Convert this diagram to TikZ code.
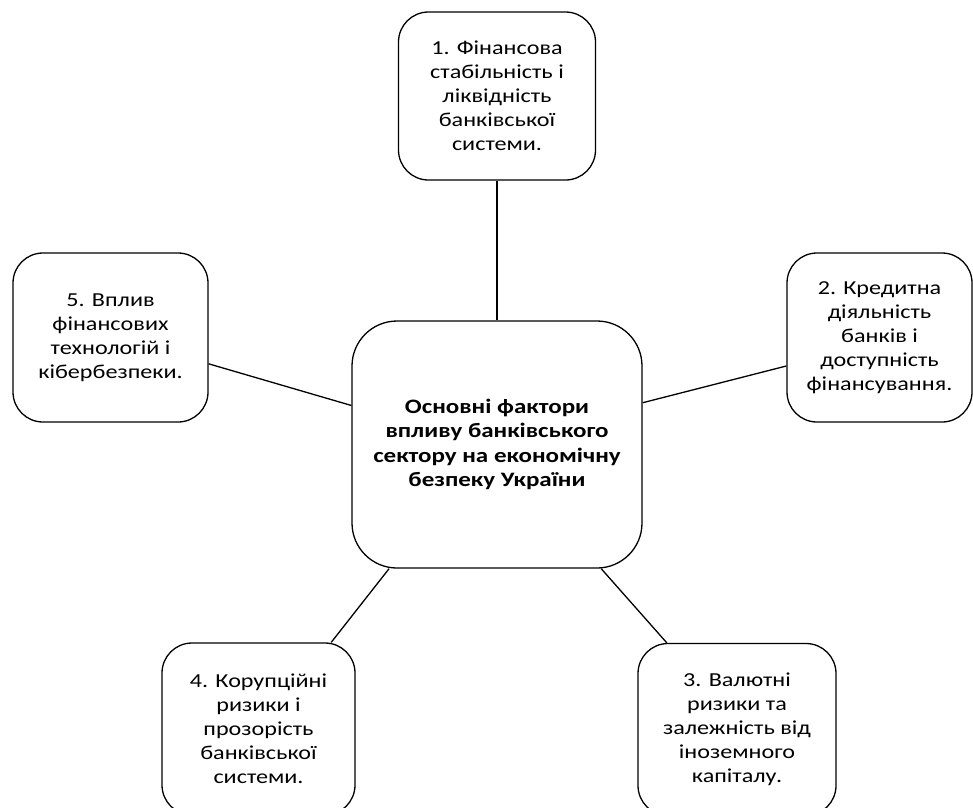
\documentclass[tikz,border=0pt]{standalone}
\usepackage{fontspec}
\setmainfont{Carlito}[FakeStretch=1.22]
\begin{document}
\begin{tikzpicture}[x=1pt,y=-1pt,
  box/.style={draw, line width=1.3pt, rounded corners=30pt, align=center,
    font=\fontsize{19.8pt}{24pt}\selectfont, inner sep=0pt},
  hub/.style={draw, line width=1.3pt, rounded corners=45pt, align=center,
    font=\fontsize{20.5pt}{24.5pt}\selectfont\bfseries, inner sep=0pt},
  link/.style={line width=1.3pt}]
\useasboundingbox (0,0) rectangle (973,807);
\clip (0,0) rectangle (973,807);
\node[hub, minimum width=290pt, minimum height=247pt] (c) at (497,444.5)
  {Основні фактори\\впливу банківського\\сектору на економічну\\безпеку України};
\node[box, minimum width=197pt, minimum height=168pt] (n1) at (497,96)
  {1. Фінансова\\стабільність і\\ліквідність\\банківської\\системи.};
\node[box, minimum width=185pt, minimum height=169pt] (n2) at (879.5,337.5)
  {2. Кредитна\\діяльність\\банків і\\доступність\\фінансування.};
\node[box, minimum width=198pt, minimum height=172pt] (n3) at (737,729.5)
  {3. Валютні\\ризики та\\залежність від\\іноземного\\капіталу.};
\node[box, minimum width=193pt, minimum height=172pt] (n4) at (258.5,729)
  {4. Корупційні\\ризики і\\прозорість\\банківської\\системи.};
\node[box, minimum width=195pt, minimum height=169pt] (n5) at (110.5,337.5)
  {5. Вплив\\фінансових\\технологій і\\кібербезпеки.};
\draw[link] (n1.south) -- (c.north);
\draw[link] (c.16) -- (n2.197);
\draw[link] (c.310) -- (n3.129);
\draw[link] (c.229) -- (n4.50);
\draw[link] (c.165) -- (n5.345);
\end{tikzpicture}
\end{document}
